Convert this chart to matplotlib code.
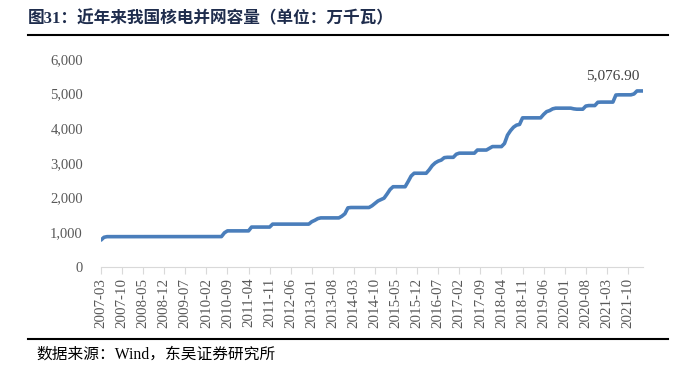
import matplotlib.pyplot as plt
import pandas as pd

plt.rcParams['font.family'] = ['Liberation Serif', 'Noto Sans CJK SC']

months = pd.period_range('2007-03', '2022-03', freq='M').strftime('%Y-%m').tolist()

# grid-connected nuclear capacity, 10k kW
capacity = (
    [770, 850] + [868] * 38
    + [870, 980, 1035] + [1035] * 7
    + [1145] * 7
    + [1230] * 13
    + [1300, 1340, 1390] + [1410] * 7
    + [1460, 1530, 1700] + [1710] * 7
    + [1760, 1830, 1900, 1940, 1980, 2100, 2230] + [2310] * 5
    + [2460, 2620] + [2700] * 5
    + [2800, 2920, 3000, 3050, 3080, 3150] + [3160] * 3
    + [3250] + [3280] * 6
    + [3370] * 4 + [3420] + [3470] * 4
    + [3560, 3800, 3930, 4030, 4090, 4110] + [4300] * 7
    + [4400, 4480, 4510, 4560] + [4580] * 6
    + [4560] + [4550] * 3 + [4640] + [4655] * 3
    + [4750] + [4755] * 5 + [4960] + [4965] * 5
    + [4990, 5077, 5077, 5076.9]
)
last_label = "5,076.90"

title = "图31：近年来我国核电并网容量（单位：万千瓦）"
source = "数据来源：Wind，东吴证券研究所"

fig = plt.figure(figsize=(6.81, 3.70), dpi=100)
ax = fig.add_axes([101 / 681, 1 - 266.7 / 370, 542 / 681, 207.7 / 370])

x = list(range(len(capacity)))
ax.plot(x, capacity, color='#4A7EBB', linewidth=2.6, solid_capstyle='round')

ax.set_xlim(0, len(capacity) - 1)
ax.set_ylim(0, 6000)
ax.set_yticks(range(0, 6001, 1000))
ax.set_yticklabels([f"{v:,}" for v in range(0, 6001, 1000)])
ticks = x[::7]
ax.set_xticks(ticks)
ax.set_xticklabels([months[i] for i in ticks], rotation=90)

for s in ['top', 'right', 'left']:
    ax.spines[s].set_visible(False)
ax.spines['bottom'].set_color('#D9D9D9')
ax.tick_params(axis='y', length=0, pad=13, labelsize=10.5, labelcolor='#595959')
ax.tick_params(axis='x', length=5, color='#D9D9D9', pad=3, labelsize=10.8, labelcolor='#595959')

ax.annotate(last_label, (x[-1], capacity[-1]), xytext=(-30, 15), textcoords='offset pixels',
            ha='center', va='center', fontsize=11, color='#404040')

fig.text(28 / 681, 1 - 19 / 370, title, fontsize=12, fontweight='bold', color='#1F2D4D',
         family=['Liberation Serif', 'Noto Sans CJK SC'], va='center')
fig.add_artist(plt.Line2D([28 / 681, 668 / 681], [1 - 35 / 370] * 2, color='black', linewidth=1.5))
fig.add_artist(plt.Line2D([28 / 681, 668 / 681], [1 - 339 / 370] * 2, color='black', linewidth=1.5))
fig.text(36 / 681, 1 - 355 / 370, source, fontsize=11.3, color='black',
         family=['Liberation Serif', 'Noto Sans CJK SC'], va='center')

fig.savefig('out.png', dpi=100)
